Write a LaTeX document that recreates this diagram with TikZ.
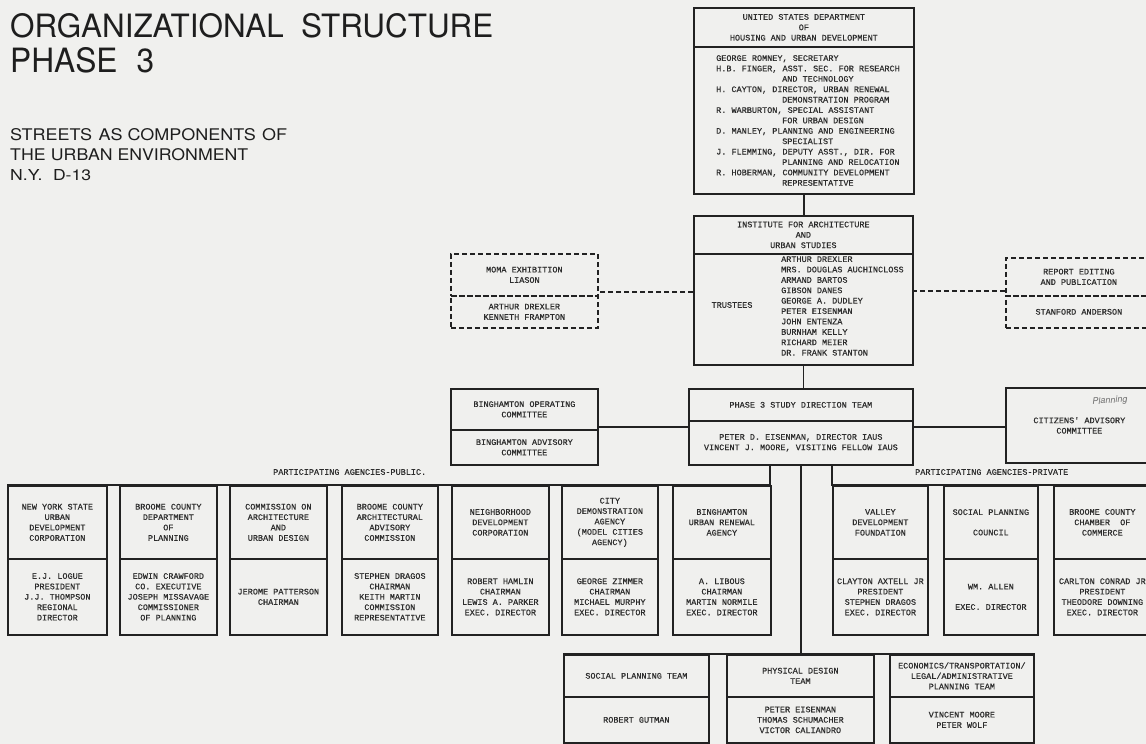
\documentclass[tikz,border=0pt]{standalone}
\usepackage{fontspec}
\usepackage{graphicx}
\newfontfamily\tw{Liberation Mono}[FakeBold=0.5]
\newfontfamily\hv{TeX Gyre Heros}
\definecolor{paper}{RGB}{240,240,238}
\definecolor{inkc}{RGB}{34,34,34}
\definecolor{txtc}{RGB}{45,45,45}
\definecolor{titlec}{RGB}{30,30,30}
\definecolor{handc}{RGB}{110,110,110}
\tikzset{
  tt/.style={font=\tw\fontsize{8.5}{10.4}\selectfont, text=txtc, align=center, inner sep=0pt},
  bx/.style={tt, draw=inkc, line width=1.7pt, anchor=north west},
  dbx/.style={bx, dash pattern=on 5pt off 3pt},
  ln/.style={draw=inkc, line width=1.7pt},
  dln/.style={ln, dash pattern=on 5pt off 3pt},
  ttl/.style={anchor=north west, inner sep=0pt, text=titlec, font=\hv},
}
\begin{document}
\begin{tikzpicture}[x=1pt,y=-1pt]
\fill[paper] (0,0) rectangle (1146,744);
\clip (0,0) rectangle (1146,744);

% ---------- titles ----------
\node[ttl] (t1) at (10,13) {\resizebox{483pt}{24pt}{ORGANIZATIONAL\hspace{0.55em}STRUCTURE}};
\node[ttl] (t2) at (10,47) {\resizebox{144pt}{25pt}{PHASE\hspace{0.6em}3}};
\node[ttl] (t3) at (10,128) {\resizebox{277pt}{12pt}{STREETS\hspace{0.35em}AS COMPONENTS\hspace{0.35em}OF}};
\node[ttl] (t4) at (10,148) {\resizebox{238pt}{12pt}{THE\hspace{0.3em}URBAN ENVIRONMENT}};
\node[ttl] (t5) at (10,169) {\resizebox{81pt}{11pt}{N.Y.\hspace{0.6em}D-13}};

% ---------- HUD ----------
\node[bx, minimum width=220, minimum height=39] (hudH) at (693,7)
  {UNITED STATES DEPARTMENT\\OF\\HOUSING AND URBAN DEVELOPMENT};
\node[bx, minimum width=220, minimum height=147] (hudB) at (693,46) {};
\node[tt, align=left, anchor=west] (hudT) at (716,120.5)
  {GEORGE ROMNEY, SECRETARY\\
   H.B. FINGER, ASST. SEC. FOR RESEARCH\\
   \hspace*{66pt}AND TECHNOLOGY\\
   H. CAYTON, DIRECTOR, URBAN RENEWAL\\
   \hspace*{66pt}DEMONSTRATION PROGRAM\\
   R. WARBURTON, SPECIAL ASSISTANT\\
   \hspace*{66pt}FOR URBAN DESIGN\\
   D. MANLEY, PLANNING AND ENGINEERING\\
   \hspace*{66pt}SPECIALIST\\
   J. FLEMMING, DEPUTY ASST., DIR. FOR\\
   \hspace*{66pt}PLANNING AND RELOCATION\\
   R. HOBERMAN, COMMUNITY DEVELOPMENT\\
   \hspace*{66pt}REPRESENTATIVE};

% ---------- IAUS ----------
\node[bx, minimum width=219, minimum height=38] (iasH) at (693,215)
  {INSTITUTE FOR ARCHITECTURE\\AND\\URBAN STUDIES};
\node[bx, minimum width=219, minimum height=111] (iasB) at (693,253) {};
\node[tt] (trus) at (732,305) {TRUSTEES};
\node[tt, align=left, anchor=west] (names) at (781,306)
  {ARTHUR DREXLER\\MRS. DOUGLAS AUCHINCLOSS\\ARMAND BARTOS\\GIBSON DANES\\
   GEORGE A. DUDLEY\\PETER EISENMAN\\JOHN ENTENZA\\BURNHAM KELLY\\
   RICHARD MEIER\\DR. FRANK STANTON};

% ---------- MOMA / report (dashed) ----------
\node[dbx, minimum width=147, minimum height=42] (momaH) at (450,253)
  {MOMA EXHIBITION\\LIASON};
\node[dbx, minimum width=147, minimum height=32] (momaB) at (450,295)
  {ARTHUR DREXLER\\KENNETH FRAMPTON};
\node[dbx, minimum width=146, minimum height=38] (repH) at (1005,257)
  {REPORT EDITING\\AND PUBLICATION};
\node[dbx, minimum width=146, minimum height=32] (repB) at (1005,295)
  {STANFORD ANDERSON};

% ---------- Binghamton / Phase 3 / Citizens ----------
\node[bx, minimum width=147, minimum height=41] (bingH) at (450,388)
  {BINGHAMTON OPERATING\\COMMITTEE};
\node[bx, minimum width=147, minimum height=35] (bingB) at (450,429)
  {BINGHAMTON ADVISORY\\COMMITTEE};
\node[bx, minimum width=224, minimum height=32] (p3H) at (688,388)
  {PHASE 3 STUDY DIRECTION TEAM};
\node[bx, minimum width=224, minimum height=44] (p3B) at (688,420)
  {PETER D. EISENMAN, DIRECTOR IAUS\\VINCENT J. MOORE, VISITING FELLOW IAUS};
\node[bx, minimum width=147, minimum height=75] (cit) at (1005,387)
  {CITIZENS' ADVISORY\\COMMITTEE};
\node[text=handc, font=\hv\itshape\fontsize{9}{10}\selectfont, rotate=4, inner sep=0pt] (hand) at (1110,401) {Planning};

% ---------- participating agencies labels ----------
\node[tt, anchor=west] (pubL) at (273,472) {PARTICIPATING AGENCIES-PUBLIC.};
\node[tt, anchor=west] (prvL) at (915,472) {PARTICIPATING AGENCIES-PRIVATE};

% ---------- public agencies ----------
\node[bx, minimum width=99, minimum height=73] (a1H) at (7,485)
  {NEW YORK STATE\\URBAN\\DEVELOPMENT\\CORPORATION};
\node[bx, minimum width=99, minimum height=76] (a1B) at (7,558)
  {E.J. LOGUE\\PRESIDENT\\J.J. THOMPSON\\REGIONAL\\DIRECTOR};
\node[bx, minimum width=97, minimum height=73] (a2H) at (119,485)
  {BROOME COUNTY\\DEPARTMENT\\OF\\PLANNING};
\node[bx, minimum width=97, minimum height=76] (a2B) at (119,558)
  {EDWIN CRAWFORD\\CO. EXECUTIVE\\JOSEPH MISSAVAGE\\COMMISSIONER\\OF PLANNING};
\node[bx, minimum width=97, minimum height=73] (a3H) at (229,485)
  {COMMISSION ON\\ARCHITECTURE\\AND\\URBAN DESIGN};
\node[bx, minimum width=97, minimum height=76] (a3B) at (229,558)
  {JEROME PATTERSON\\CHAIRMAN};
\node[bx, minimum width=96, minimum height=73] (a4H) at (341,485)
  {BROOME COUNTY\\ARCHITECTURAL\\ADVISORY\\COMMISSION};
\node[bx, minimum width=96, minimum height=76] (a4B) at (341,558)
  {STEPHEN DRAGOS\\CHAIRMAN\\KEITH MARTIN\\COMMISSION\\REPRESENTATIVE};
\node[bx, minimum width=97, minimum height=73] (a5H) at (451,485)
  {NEIGHBORHOOD\\DEVELOPMENT\\CORPORATION};
\node[bx, minimum width=97, minimum height=76] (a5B) at (451,558)
  {ROBERT HAMLIN\\CHAIRMAN\\LEWIS A. PARKER\\EXEC. DIRECTOR};
\node[bx, minimum width=96, minimum height=73] (a6H) at (561,485)
  {CITY\\DEMONSTRATION\\AGENCY\\(MODEL CITIES\\AGENCY)};
\node[bx, minimum width=96, minimum height=76] (a6B) at (561,558)
  {GEORGE ZIMMER\\CHAIRMAN\\MICHAEL MURPHY\\EXEC. DIRECTOR};
\node[bx, minimum width=98, minimum height=73] (a7H) at (672,485)
  {BINGHAMTON\\URBAN RENEWAL\\AGENCY};
\node[bx, minimum width=98, minimum height=76] (a7B) at (672,558)
  {A. LIBOUS\\CHAIRMAN\\MARTIN NORMILE\\EXEC. DIRECTOR};

% ---------- private agencies ----------
\node[bx, minimum width=95, minimum height=73] (b1H) at (832,485)
  {VALLEY\\DEVELOPMENT\\FOUNDATION};
\node[bx, minimum width=95, minimum height=76] (b1B) at (832,558)
  {CLAYTON AXTELL JR\\PRESIDENT\\STEPHEN DRAGOS\\EXEC. DIRECTOR};
\node[bx, minimum width=94, minimum height=73] (b2H) at (943,485)
  {SOCIAL PLANNING\\[10pt]COUNCIL};
\node[bx, minimum width=94, minimum height=76] (b2B) at (943,558)
  {WM. ALLEN\\[10pt]EXEC. DIRECTOR};
\node[bx, minimum width=97, minimum height=73] (b3H) at (1053,485)
  {BROOME COUNTY\\CHAMBER\ \ OF\\COMMERCE};
\node[bx, minimum width=97, minimum height=76] (b3B) at (1053,558)
  {CARLTON CONRAD JR\\PRESIDENT\\THEODORE DOWNING\\EXEC. DIRECTOR};

% ---------- teams ----------
\node[bx, minimum width=145, minimum height=42] (t1H) at (563,654)
  {SOCIAL PLANNING TEAM};
\node[bx, minimum width=145, minimum height=46] (t1B) at (563,696)
  {ROBERT GUTMAN};
\node[bx, minimum width=147, minimum height=42] (t2H) at (726,654)
  {PHYSICAL DESIGN\\TEAM};
\node[bx, minimum width=147, minimum height=46] (t2B) at (726,696)
  {PETER EISENMAN\\THOMAS SCHUMACHER\\VICTOR CALIANDRO};
\node[bx, minimum width=144, minimum height=42] (t3H) at (889,654)
  {ECONOMICS/TRANSPORTATION/\\LEGAL/ADMINISTRATIVE\\PLANNING TEAM};
\node[bx, minimum width=144, minimum height=46] (t3B) at (889,696)
  {VINCENT MOORE\\PETER WOLF};

% ---------- connectors ----------
\draw[ln] (hudB.south) -- (hudB.south |- iasH.north);
\draw[ln] (iasB.south) -- (iasB.south |- p3H.north);
\coordinate (jL) at (693,292);
\draw[dln] (jL) -- (jL -| momaH.east);
\coordinate (jR) at (912,291);
\draw[dln] (jR) -- (jR -| repH.west);
\coordinate (bjn) at (688,427);
\draw[ln] (bjn) -- (bjn -| bingB.east);
\coordinate (cjn) at (912,427);
\draw[ln] (cjn) -- (cjn -| cit.west);
\coordinate (pubJ) at (770,464);
\draw[ln] (pubJ) |- (a1H.north west);
\coordinate (prvJ) at (832,464);
\draw[ln] (prvJ) |- (b3H.north east);
\draw[ln] (p3B.south) -- (p3B.south |- t2H.north);
\draw[ln] (t1H.north west) -- (t3H.north east);
\end{tikzpicture}
\end{document}
